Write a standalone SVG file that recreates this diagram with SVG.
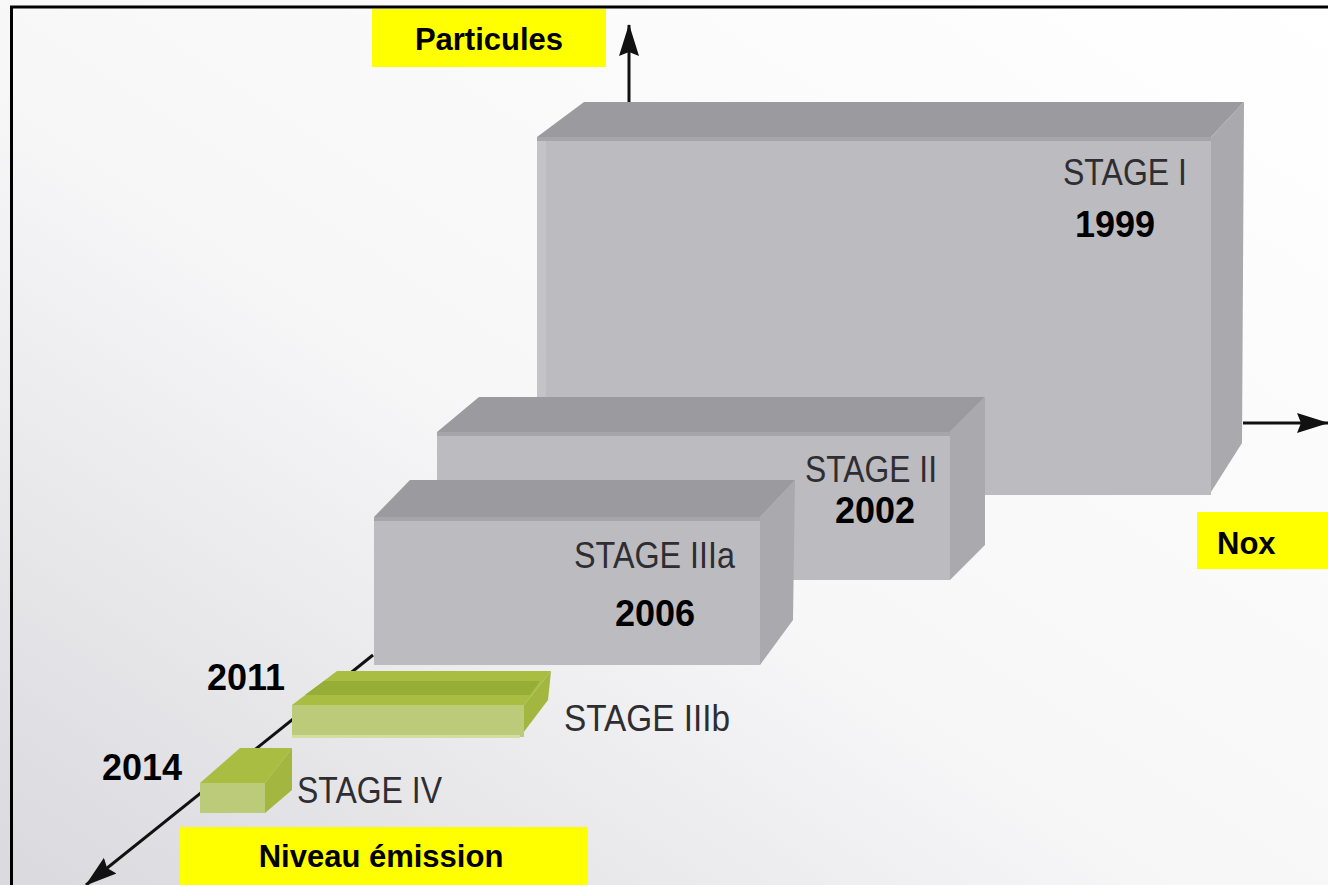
<svg xmlns="http://www.w3.org/2000/svg" width="1328" height="885" viewBox="0 0 1328 885">
<defs>
<linearGradient id="bg" x1="1" y1="0" x2="0" y2="1">
<stop offset="0" stop-color="#ffffff"/>
<stop offset="0.55" stop-color="#f7f7f8"/>
<stop offset="1" stop-color="#d9d9de"/>
</linearGradient>
<marker id="ahb" markerWidth="32" markerHeight="22" refX="31" refY="11" orient="auto" markerUnits="userSpaceOnUse" viewBox="0 0 32 22">
<path d="M0,1 L32,11 L0,21 L4,11 z" fill="#111"/>
</marker>
</defs>
<style>
.front{fill:#bcbcc0}
.top{fill:#9a9a9f}
.side{fill:#aaaaae}
.band{fill:#a6a6aa}
.gfront{fill:#bccb7a}
.gtop{fill:#a8bd42}
.gside{fill:#a2b640}
.gband{fill:#97ad35}
.lbl{fill:#ffff00}
.ax{stroke:#111;stroke-width:3;fill:none}
.yl{font-family:"Liberation Sans",Arial,sans-serif;font-weight:bold;font-size:31px;fill:#000}
.yr{font-family:"Liberation Sans",Arial,sans-serif;font-weight:bold;font-size:36px;fill:#000}
.st{font-family:"Liberation Sans",Arial,sans-serif;font-size:37px;fill:#2e2e32}
</style>
<rect width="1328" height="885" fill="url(#bg)"/>
<g id="frame">
<line x1="10" y1="7" x2="1328" y2="7" stroke="#000" stroke-width="3"/>
<line x1="11.5" y1="6" x2="11.5" y2="885" stroke="#000" stroke-width="3"/>
</g>
<g id="connectors">
<line class="ax" x1="629" y1="102" x2="629" y2="25" marker-end="url(#ahb)"/>
<line class="ax" x1="1243" y1="423" x2="1328" y2="423" marker-end="url(#ahb)"/>
<line class="ax" x1="373" y1="655" x2="86" y2="885" marker-end="url(#ahb)"/>
</g>
<g id="stage1">
<polygon class="top" points="537,137 584,102 1244,102 1211,137"/>
<polygon class="side" points="1211,137 1244,102 1242,443 1211,492"/>
<rect class="front" x="537" y="137" width="674" height="358"/>
<rect class="band" x="537" y="137" width="674" height="4"/>
<rect fill="#c4c4c8" x="537" y="141" width="9" height="354"/>
<text class="st" x="1063" y="185" textLength="124" lengthAdjust="spacingAndGlyphs">STAGE I</text>
<text class="yr" x="1075" y="237">1999</text>
</g>
<g id="stage2">
<polygon class="top" points="437,432 479,397 985,397 950,432"/>
<polygon class="side" points="950,432 985,397 985,545 950,580"/>
<rect class="front" x="437" y="432" width="513" height="148"/>
<rect class="band" x="437" y="432" width="513" height="4"/>
<text class="st" x="805" y="482" textLength="132" lengthAdjust="spacingAndGlyphs">STAGE II</text>
<text class="yr" x="835" y="523">2002</text>
</g>
<g id="stage3a">
<polygon class="top" points="374,517 410,480 795,480 760,517"/>
<polygon class="side" points="760,517 795,480 793,620 760,665"/>
<rect class="front" x="374" y="517" width="386" height="148"/>
<rect class="band" x="374" y="517" width="386" height="4"/>
<text class="st" x="574" y="568" textLength="161" lengthAdjust="spacingAndGlyphs">STAGE IIIa</text>
<text class="yr" x="615" y="626">2006</text>
</g>
<g id="stage3b">
<polygon class="gtop" points="292,705 337,671 551,671 524,705"/>
<polygon class="gband" points="305,695 324,681 540,681 530,695"/>
<polygon class="gside" points="524,705 551,671 548,700 520,737"/>
<rect class="gfront" x="292" y="705" width="232" height="32"/>
<rect fill="#d2dd9f" x="292" y="735" width="228" height="3"/>
<text class="st" x="564" y="731" font-size="36" textLength="166" lengthAdjust="spacingAndGlyphs">STAGE IIIb</text>
<text class="yr" x="207" y="690">2011</text>
</g>
<g id="stage4">
<polygon class="gtop" points="200,783 240,748 292,748 265,783"/>
<polygon class="gside" points="265,783 292,748 292,790 265,813"/>
<rect class="gfront" x="200" y="783" width="65" height="30"/>
<text class="st" x="297" y="803" font-size="36" textLength="145" lengthAdjust="spacingAndGlyphs">STAGE IV</text>
<text class="yr" x="102" y="780">2014</text>
</g>
<g id="label-particules">
<rect class="lbl" x="372" y="9" width="234" height="58"/>
<text class="yl" x="489" y="50" text-anchor="middle">Particules</text>
</g>
<g id="label-nox">
<rect class="lbl" x="1197" y="512" width="131" height="57"/>
<text class="yl" x="1217" y="554">Nox</text>
</g>
<g id="label-niveau">
<rect class="lbl" x="180" y="827" width="408" height="58"/>
<text class="yl" x="381" y="867" text-anchor="middle">Niveau émission</text>
</g>
</svg>
